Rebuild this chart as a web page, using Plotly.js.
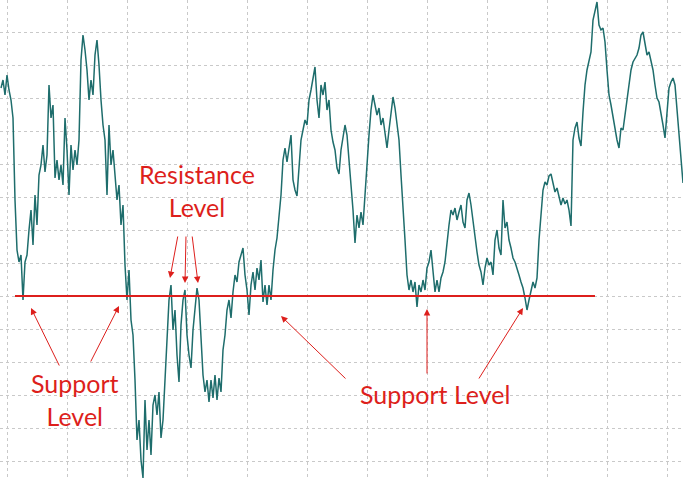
<!DOCTYPE html>
<html>
<head>
<meta charset="utf-8">
<script src="https://cdn.plot.ly/plotly-3.0.1.min.js"></script>
<style>
  html, body { margin: 0; padding: 0; background: #ffffff; }
  #chart { width: 683px; height: 480px; }
</style>
</head>
<body>
<div id="chart"></div>
<script>
// Closing price per bar (points)
const prices = [
  392, 400, 385, 405, 390, 380, 362, 280, 230, 218,
  225, 180, 218, 225, 250, 270, 235, 285, 255, 305,
  315, 335, 308, 325, 395, 362, 375, 302, 320, 300,
  315, 295, 362, 330, 285, 335, 310, 330, 315, 340,
  420, 445, 430, 410, 380, 400, 385, 425, 440, 415,
  380, 355, 340, 285, 355, 315, 330, 300, 280, 295,
  255, 275, 215, 180, 210, 160, 145, 100, 40, 60,
  20, 2, 80, 30, 60, 25, 75, 85, 65, 88,
  42, 60, 95, 140, 180, 195, 150, 170, 125, 98,
  155, 180, 190, 145, 125, 112, 150, 170, 192, 180,
  135, 105, 88, 100, 78, 100, 82, 105, 80, 102,
  88, 130, 145, 170, 180, 162, 188, 205, 198, 218,
  225, 232, 205, 190, 165, 195, 208, 190, 212, 200,
  220, 178, 195, 175, 195, 180, 210, 230, 242, 265,
  285, 320, 332, 318, 330, 345, 300, 290, 284, 315,
  340, 350, 360, 355, 380, 390, 402, 413, 380, 362,
  395, 385, 398, 370, 380, 350, 338, 330, 312, 306,
  330, 342, 355, 345, 315, 295, 270, 237, 265, 252,
  268, 255, 285, 320, 345, 370, 385, 375, 365, 372,
  355, 362, 345, 332, 350, 370, 383, 372, 355, 340,
  305, 265, 240, 205, 190, 200, 188, 198, 173, 195,
  188, 200, 190, 212, 218, 230, 210, 188, 200, 188,
  202, 208, 218, 240, 255, 270, 265, 272, 260, 268,
  275, 258, 252, 280, 287, 275, 258, 240, 228, 215,
  208, 195, 212, 222, 215, 218, 205, 240, 250, 232,
  225, 280, 252, 258, 240, 232, 222, 218, 210, 205,
  198, 192, 182, 170, 180, 190, 198, 192, 202, 240,
  270, 290, 298, 295, 304, 306, 297, 288, 292, 282,
  275, 282, 276, 280, 270, 254, 340, 352, 358, 342,
  334, 368, 395, 410, 418, 428, 460, 470, 478, 455,
  450, 452, 438, 410, 385, 375, 362, 352, 340, 332,
  352, 350, 365, 380, 392, 410, 418, 422, 425, 432,
  445, 448, 435, 425, 428, 418, 410, 395, 382, 378,
  368, 355, 342, 370, 392, 398, 402, 395, 370, 345,
  325, 297
];
const bars = prices.map((_, i) => i);

// Horizontal support level and the bars it spans
const supportLevel = 184;
const supportFrom = 7;
const supportTo = 297;

// Label texts
const resistanceLabel = 'Resistance<br>Level';
const supportLabelLeft = 'Support<br>Level';
const supportLabelRight = 'Support Level';

// Touch points: [bar, price] of arrow head, [bar, price] of arrow tail
const resistanceTouches = [
  [[84.5, 202], [88.5, 245]],
  [[92.0, 197], [92.5, 245]],
  [[98.5, 197], [95.5, 245]]
];
const supportTouches = [
  [[15.0, 172], [29.5, 113]],
  [[59.0, 174], [44.5, 117]],
  [[140.0, 164], [173.0, 100]],
  [[213.0, 171], [213.0, 105]],
  [[261.0, 172], [238.5, 100]]
];

const RED = '#dd1f1c';
const TEAL = '#1e6d6c';

const arrow = ([head, tail]) => ({
  x: head[0], y: head[1], ax: tail[0], ay: tail[1],
  xref: 'x', yref: 'y', axref: 'x', ayref: 'y',
  text: '', showarrow: true,
  arrowhead: 2, arrowsize: 1.3, arrowwidth: 1, arrowcolor: RED,
  standoff: 0, startstandoff: 0
});

const labelFont = { family: 'Lato, "Open Sans", sans-serif', size: 25, color: RED };

const annotations = [
  ...resistanceTouches.map(arrow),
  ...supportTouches.map(arrow),
  { x: 97.75, y: 289.5, xref: 'x', yref: 'y', text: resistanceLabel,
    showarrow: false, align: 'center', font: labelFont },
  { x: 36.75, y: 81, xref: 'x', yref: 'y', text: supportLabelLeft,
    showarrow: false, align: 'center', font: labelFont },
  { x: 217, y: 86, xref: 'x', yref: 'y', text: supportLabelRight,
    showarrow: false, align: 'center', font: labelFont }
];

const trace = {
  x: bars, y: prices, type: 'scatter', mode: 'lines',
  line: { color: TEAL, width: 1.5, shape: 'linear' },
  hoverinfo: 'skip'
};

const gridAxis = {
  showgrid: true, gridcolor: '#c9c9c9', griddash: 'dot', gridwidth: 1,
  zeroline: false, showline: false, showticklabels: false, ticks: '',
  tickmode: 'linear', fixedrange: true
};

const layout = {
  width: 683, height: 480,
  margin: { l: 0, r: 0, t: 0, b: 0, pad: 0 },
  paper_bgcolor: '#ffffff', plot_bgcolor: '#ffffff',
  showlegend: false,
  xaxis: Object.assign({}, gridAxis, { range: [-0.5, 341], tick0: 3, dtick: 30 }),
  yaxis: Object.assign({}, gridAxis, { range: [0, 480], tick0: supportLevel, dtick: 33 }),
  shapes: [{
    type: 'line', xref: 'x', yref: 'y',
    x0: supportFrom, x1: supportTo, y0: supportLevel, y1: supportLevel,
    line: { color: RED, width: 2.2 }
  }],
  annotations: annotations
};

Plotly.newPlot('chart', [trace], layout, { staticPlot: true, displayModeBar: false });
</script>
</body>
</html>
